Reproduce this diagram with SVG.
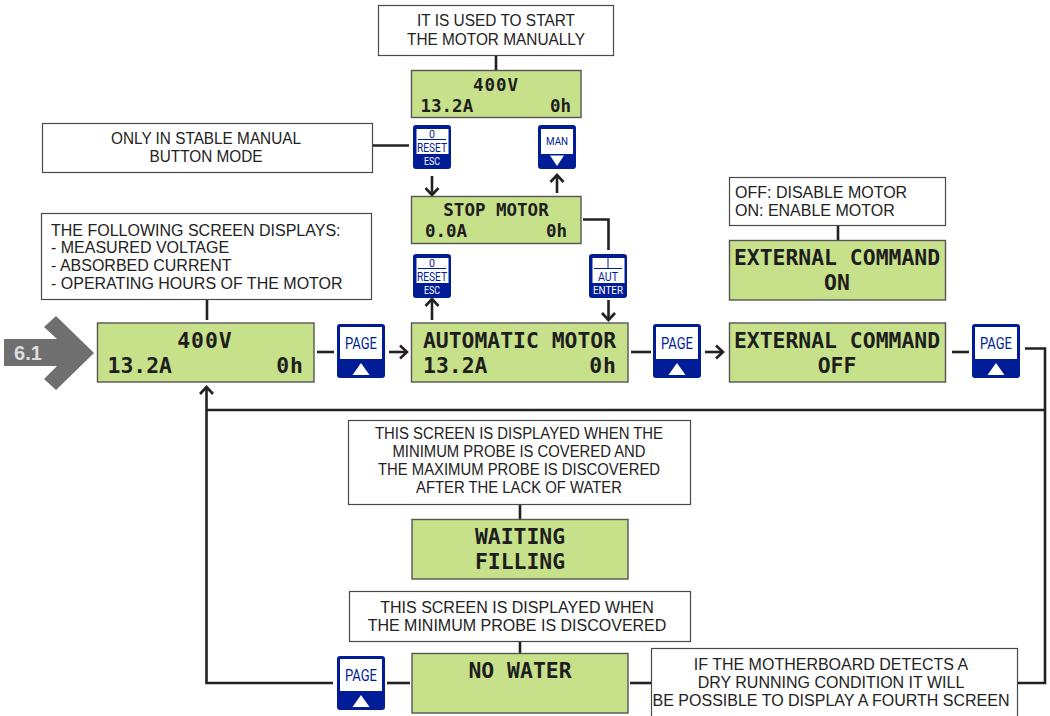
<svg xmlns="http://www.w3.org/2000/svg" width="1050" height="716" viewBox="0 0 1050 716" xmlns:xlink="http://www.w3.org/1999/xlink">
<style>
.note{fill:#fff;stroke:#4a4a4a;stroke-width:1.2}
.nt{font-family:"Liberation Sans",Arial,sans-serif;font-size:16px;fill:#222;text-anchor:middle}
.nl{text-anchor:start}
.lcd{fill:#c7e08a;stroke:#555;stroke-width:1.4}
.lt{font-family:"DejaVu Sans Mono",monospace;font-weight:bold;fill:#1e1e1e;text-anchor:middle}
.big{font-size:21.400px}
.med{font-size:17.500px}
.wide{letter-spacing:1px}
.hr{letter-spacing:1px}
.end{text-anchor:end}.st{text-anchor:start}
.conn{fill:none;stroke:#222;stroke-width:2.6}
.blue{fill:#001c96}
.win{fill:#fff}
.bt{font-family:"Roboto","Liberation Sans",sans-serif;fill:#001c96;text-anchor:middle}
.wt{font-family:"Roboto","Liberation Sans",sans-serif;fill:#fff;text-anchor:middle}
</style>
<defs>
<marker id="arr" markerUnits="userSpaceOnUse" markerWidth="16" markerHeight="16" refX="13" refY="8" orient="auto">
<path d="M6 1.500 L13 8 L6 14.500" fill="none" stroke="#222" stroke-width="2.600"/>
</marker>
<g id="page">
<rect width="48" height="54" rx="3" class="blue"/>
<rect x="3" y="3" width="42" height="32" class="win"/>
<text x="24" y="25" class="bt" font-size="16" textLength="32" lengthAdjust="spacingAndGlyphs">PAGE</text>
<path d="M24 39 L32.500 51 L15.500 51 Z" fill="#fff"/>
</g>
<g id="reset">
<rect width="38" height="44" rx="3" class="blue"/><rect x="3.500" y="4" width="32" height="25" class="win"/>
<text x="19" y="13" class="bt" font-size="11.500" textLength="6" lengthAdjust="spacingAndGlyphs">0</text>
<path d="M5 14.500H33" stroke="#001c96" fill="none"/>
<text x="19" y="27" class="bt" font-size="12.500" textLength="30" lengthAdjust="spacingAndGlyphs">RESET</text>
<text x="19" y="40" class="wt" font-size="10.500" textLength="16" lengthAdjust="spacingAndGlyphs">ESC</text>
</g>
</defs>

<g id="connectors">
<path class="conn" d="M496 55V70"/>
<path class="conn" d="M373 145.500H409"/>
<path class="conn" marker-end="url(#arr)" d="M432 176V195"/>
<path class="conn" marker-end="url(#arr)" d="M557 193V175"/>
<path class="conn" d="M583 219.500H608.500V250"/>
<path class="conn" marker-end="url(#arr)" d="M608.500 300V320"/>
<path class="conn" marker-end="url(#arr)" d="M432 320V299"/>
<path class="conn" d="M207 300V320"/>
<path class="conn" d="M317 352H334"/>
<path class="conn" marker-end="url(#arr)" d="M389 352H407"/>
<path class="conn" d="M631 352H651"/>
<path class="conn" marker-end="url(#arr)" d="M705 352H723"/>
<path class="conn" d="M952 352H969"/>
<path class="conn" d="M1025 348.500H1045V683H1018"/>
<path class="conn" d="M207 410H1045"/>
<path class="conn" marker-end="url(#arr)" d="M333 683H206.500V387"/>
<path class="conn" d="M387 683H410"/>
<path class="conn" d="M630 683H651"/>
<path class="conn" d="M838 225V240"/>
<path class="conn" d="M520 504V519"/>
<path class="conn" d="M520 641V653"/>
</g>

<g id="entry">
<path d="M56 316 L94 353 L56 390 L44 379 L57 366 H4 V339 H57 L44 327 Z" fill="#6f6f6f"/>
<text x="28" y="360" font-family="Liberation Sans,sans-serif" font-weight="bold" font-size="20" fill="#ddd" text-anchor="middle">6.1</text>
</g>

<g id="note-start"><rect class="note" x="378.500" y="5.500" width="235" height="50"/>
<text class="nt" x="496" y="26" textLength="158" lengthAdjust="spacingAndGlyphs">IT IS USED TO START</text><text class="nt" x="496" y="45" textLength="178" lengthAdjust="spacingAndGlyphs">THE MOTOR MANUALLY</text></g>
<g id="note-stable"><rect class="note" x="42.500" y="123.500" width="330" height="49"/>
<text class="nt" x="206" y="144" textLength="190" lengthAdjust="spacingAndGlyphs">ONLY IN STABLE MANUAL</text><text class="nt" x="206" y="162" textLength="113" lengthAdjust="spacingAndGlyphs">BUTTON MODE</text></g>
<g id="note-displays"><rect class="note" x="41.500" y="213.500" width="330" height="86"/>
<text class="nt nl" x="51" y="236">THE FOLLOWING SCREEN DISPLAYS:</text>
<text class="nt nl" x="51" y="253">- MEASURED VOLTAGE</text>
<text class="nt nl" x="51" y="271">- ABSORBED CURRENT</text>
<text class="nt nl" x="51" y="289">- OPERATING HOURS OF THE MOTOR</text></g>
<g id="note-external"><rect class="note" x="729.500" y="177.500" width="216" height="48"/>
<text class="nt nl" x="735" y="198">OFF: DISABLE MOTOR</text><text class="nt nl" x="735" y="216">ON: ENABLE MOTOR</text></g>
<g id="note-waiting"><rect class="note" x="348.500" y="420.500" width="342" height="84"/>
<text class="nt" x="519" y="439" textLength="288" lengthAdjust="spacingAndGlyphs">THIS SCREEN IS DISPLAYED WHEN THE</text>
<text class="nt" x="519" y="457" textLength="253" lengthAdjust="spacingAndGlyphs">MINIMUM PROBE IS COVERED AND</text>
<text class="nt" x="519" y="475" textLength="282" lengthAdjust="spacingAndGlyphs">THE MAXIMUM PROBE IS DISCOVERED</text>
<text class="nt" x="519" y="493" textLength="206" lengthAdjust="spacingAndGlyphs">AFTER THE LACK OF WATER</text></g>
<g id="note-nowater"><rect class="note" x="349.500" y="591.500" width="341" height="50"/>
<text class="nt" x="517" y="613">THIS SCREEN IS DISPLAYED WHEN</text>
<text class="nt" x="517" y="631">THE MINIMUM PROBE IS DISCOVERED</text></g>
<g id="note-dry"><rect class="note" x="651.500" y="648.500" width="366" height="70"/>
<text class="nt" x="831" y="670">IF THE MOTHERBOARD DETECTS A</text>
<text class="nt" x="831" y="688">DRY RUNNING CONDITION IT WILL</text>
<text class="nt" x="831" y="706">BE POSSIBLE TO DISPLAY A FOURTH SCREEN</text></g>

<g id="lcd-manual"><rect class="lcd" x="411.500" y="70.500" width="169.500" height="47"/>
<text class="lt med wide" x="496" y="91">400V</text><text class="lt med st" x="420.500" y="112">13.2A</text><text class="lt med end" x="571" y="112">0h</text></g>
<g id="lcd-stop"><rect class="lcd" x="411.500" y="196.500" width="169.500" height="47"/>
<text class="lt med" x="496" y="216">STOP MOTOR</text><text class="lt med st" x="425" y="237">0.0A</text><text class="lt med end" x="567" y="237">0h</text></g>
<g id="lcd-main"><rect class="lcd" x="97.500" y="323" width="216.500" height="59"/>
<text class="lt big wide" x="205" y="348">400V</text><text class="lt big st" x="107.500" y="373">13.2A</text><text class="lt big end hr" x="304" y="373">0h</text></g>
<g id="lcd-auto"><rect class="lcd" x="411.500" y="323" width="216.500" height="59"/>
<text class="lt big" x="519.500" y="348">AUTOMATIC MOTOR</text><text class="lt big st" x="423" y="373">13.2A</text><text class="lt big end hr" x="617" y="373">0h</text></g>
<g id="lcd-ext-off"><rect class="lcd" x="729.500" y="323" width="216" height="59"/>
<text class="lt big" x="837" y="348">EXTERNAL COMMAND</text><text class="lt big" x="837" y="373">OFF</text></g>
<g id="lcd-ext-on"><rect class="lcd" x="729.500" y="240.500" width="216" height="59.500"/>
<text class="lt big" x="837" y="265">EXTERNAL COMMAND</text><text class="lt big" x="837" y="290">ON</text></g>
<g id="lcd-waiting"><rect class="lcd" x="412" y="519.500" width="216" height="59.500"/>
<text class="lt big" x="520" y="544">WAITING</text><text class="lt big" x="520" y="569">FILLING</text></g>
<g id="lcd-nowater"><rect class="lcd" x="412" y="653.500" width="216" height="59.500"/>
<text class="lt big" x="520" y="678">NO WATER</text></g>

<g id="btn-page1"><use xlink:href="#page" href="#page" x="337" y="324"/></g>
<g id="btn-page2"><use xlink:href="#page" href="#page" x="653" y="324"/></g>
<g id="btn-page3"><use xlink:href="#page" href="#page" x="972" y="324"/></g>
<g id="btn-page4"><use xlink:href="#page" href="#page" x="337" y="656"/></g>

<g id="btn-reset1"><use xlink:href="#reset" href="#reset" x="413" y="125"/></g>
<g id="btn-man" transform="translate(538 125)"><rect width="38" height="44" rx="3" class="blue"/><rect x="3" y="4" width="32" height="25" class="win"/>
<text x="19" y="20" class="bt" font-size="11.500" textLength="22" lengthAdjust="spacingAndGlyphs">MAN</text><path d="M12 30.500H26L19 41Z" fill="#fff"/></g>
<g id="btn-reset2"><use xlink:href="#reset" href="#reset" x="413" y="254"/></g>
<g id="btn-enter" transform="translate(589 254)"><rect width="38" height="44" rx="3" class="blue"/><rect x="3.500" y="4" width="32" height="25" class="win"/>
<path d="M19 4V14M5 14.500H33" stroke="#001c96" fill="none"/><text x="19" y="27" class="bt" font-size="12" textLength="20" lengthAdjust="spacingAndGlyphs">AUT</text><text x="19" y="40" class="wt" font-size="10.500" textLength="30" lengthAdjust="spacingAndGlyphs">ENTER</text></g>
</svg>
